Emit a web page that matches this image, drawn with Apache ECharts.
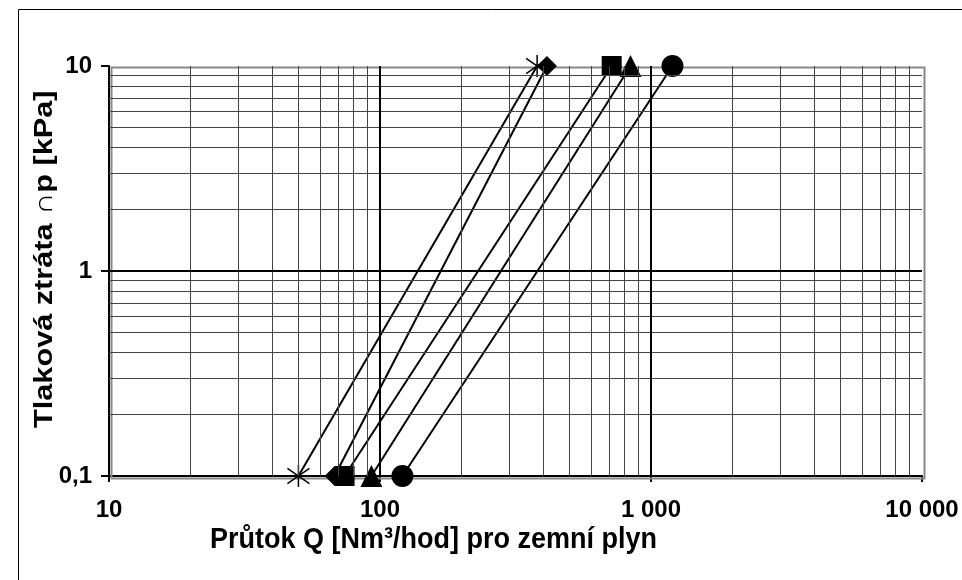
<!DOCTYPE html>
<html>
<head>
<meta charset="utf-8">
<script src="https://cdn.jsdelivr.net/npm/echarts@6/dist/echarts.min.js"></script>
<style>
  html, body { margin: 0; padding: 0; background: #fff; }
  #chart { width: 962px; height: 580px; }
</style>
</head>
<body>
<div id="chart"></div>
<script>
// tlakova ztrata [kPa] at both ends of each line
const dp = [0.1, 10];
// prutok Q [Nm3/hod] for each line
const qStar = [50, 380];
const qDiamond = [68, 413];
const qSquare = [74, 716];
const qTriangle = [93, 840];
const qCircle = [121, 1200];

const xMinor = [20, 30, 40, 50, 60, 70, 80, 90, 200, 300, 400, 500, 600, 700, 800, 900, 2000, 3000, 4000, 5000, 6000, 7000, 8000, 9000];
const yMinor = [0.2, 0.3, 0.4, 0.5, 0.6, 0.7, 0.8, 0.9, 2, 3, 4, 5, 6, 7, 8, 9];

const FONT = 'Liberation Sans, Arial, sans-serif';

function pairs(q) {
  return q.map((v, i) => [v, dp[i]]);
}

// grid lines (minor lines at 2..9 of each decade, thicker decade lines)
const gridLines = [];
xMinor.forEach(v => gridLines.push({ xAxis: v, lineStyle: { color: '#444', width: 1, type: 'solid' } }));
yMinor.forEach(v => gridLines.push({ yAxis: v, lineStyle: { color: '#444', width: 1, type: 'solid' } }));
[100, 1000].forEach(v => gridLines.push({ xAxis: v, lineStyle: { color: '#000', width: 2, type: 'solid' } }));
gridLines.push({ yAxis: 1, lineStyle: { color: '#000', width: 2, type: 'solid' } });

const starPath = 'path://M10,0L10,20M0,3L20,17M0,17L20,3';

function lineSeries(name, q, symbol, size, extra) {
  return Object.assign({
    name: name,
    type: 'line',
    data: pairs(q),
    symbol: symbol,
    symbolSize: size,
    showAllSymbol: true,
    lineStyle: { color: '#000', width: 2 },
    itemStyle: { color: '#000' },
    z: 3
  }, extra || {});
}

const option = {
  animation: false,
  backgroundColor: '#fff',
  grid: { left: 109, right: 40, top: 66, bottom: 104 },
  xAxis: {
    type: 'log',
    logBase: 10,
    min: 10,
    max: 10000,
    axisLine: { show: true, onZero: false, lineStyle: { color: '#000', width: 2 } },
    axisTick: { show: true, inside: false, length: 6, lineStyle: { color: '#000', width: 2 } },
    splitLine: { show: false },
    axisLabel: {
      margin: 22,
      color: '#000',
      fontFamily: FONT,
      fontWeight: 'bold',
      fontSize: 24,
      formatter: v => String(Math.round(v)).replace(/\B(?=(\d{3})+(?!\d))/g, ' ')
    }
  },
  yAxis: {
    type: 'log',
    logBase: 10,
    min: 0.1,
    max: 10,
    axisLine: { show: true, onZero: false, lineStyle: { color: '#000', width: 2 } },
    axisTick: { show: true, inside: false, length: 8, lineStyle: { color: '#000', width: 2 } },
    splitLine: { show: false },
    axisLabel: {
      margin: 17,
      color: '#000',
      fontFamily: FONT,
      fontWeight: 'bold',
      fontSize: 24,
      formatter: v => String(v).replace('.', ',')
    }
  },
  graphic: [
    {
      type: 'rect',
      left: 16, top: 7,
      shape: { width: 960, height: 590 },
      style: { fill: null, stroke: '#000', lineWidth: 1 },
      silent: true, z: -1
    },
    {
      type: 'rect',
      left: 109, top: 65,
      shape: { width: 813, height: 411 },
      style: { fill: null, stroke: '#888', lineWidth: 2 },
      silent: true, z: 1
    },
    {
      type: 'text',
      x: 210, y: 525,
      scaleY: 1.08,
      style: {
        text: 'Průtok Q [Nm³/hod] pro zemní plyn',
        font: 'bold 27px ' + FONT,
        fill: '#000'
      }
    },
    {
      type: 'text',
      x: 32, y: 428,
      rotation: Math.PI / 2,
      scaleX: 1.18,
      style: {
        text: 'Tlaková ztráta ∩p [kPa]',
        font: 'bold 26px ' + FONT,
        fill: '#000'
      }
    }
  ],
  series: [
    {
      type: 'line',
      data: [],
      silent: true,
      z: 1,
      markLine: {
        silent: true,
        symbol: 'none',
        label: { show: false },
        animation: false,
        data: gridLines
      }
    },
    lineSeries('star', qStar, starPath, 22, {
      itemStyle: { color: 'none', borderColor: '#000', borderWidth: 1.5 }
    }),
    lineSeries('diamond', qDiamond, 'diamond', 20),
    lineSeries('square', qSquare, 'rect', 20),
    lineSeries('triangle', qTriangle, 'triangle', 22),
    lineSeries('circle', qCircle, 'circle', 22)
  ]
};

const chart = echarts.init(document.getElementById('chart'), null, { renderer: 'canvas' });
chart.setOption(option);
</script>
</body>
</html>
